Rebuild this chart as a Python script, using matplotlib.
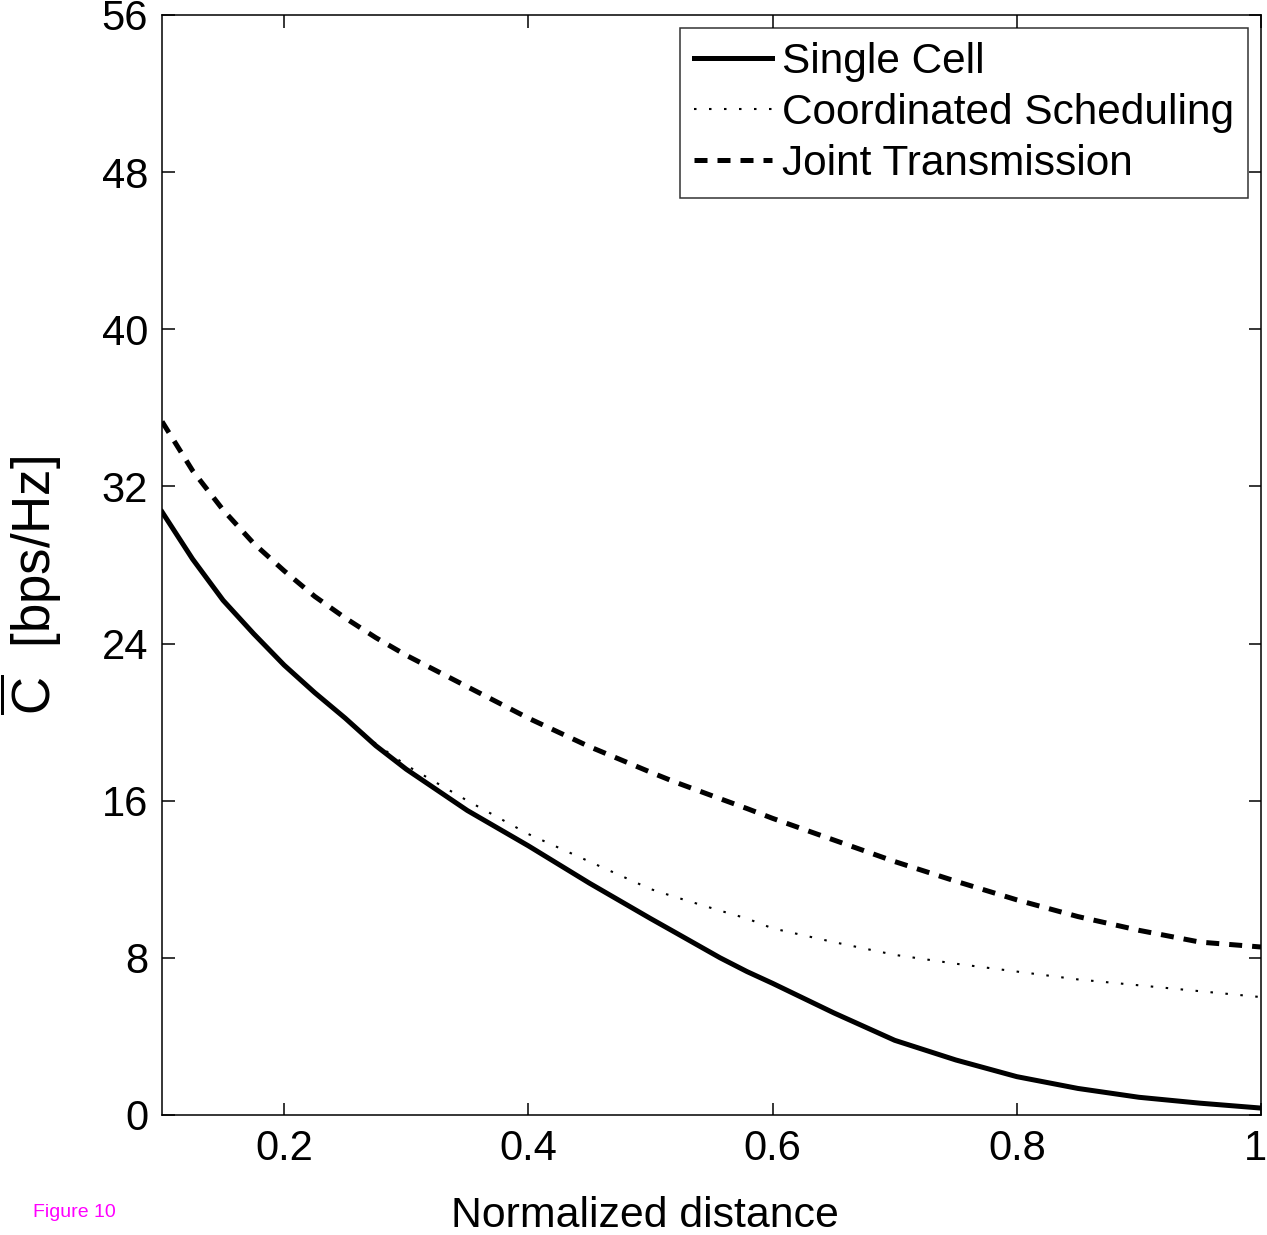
import matplotlib
matplotlib.use("Agg")
import matplotlib.pyplot as plt
import matplotlib.transforms as mtransforms

plt.rcParams['font.family'] = ['Liberation Sans', 'DejaVu Sans']
plt.rcParams['mathtext.fontset'] = 'custom'
plt.rcParams['mathtext.rm'] = 'Liberation Sans'
plt.rcParams['mathtext.it'] = 'Liberation Sans:italic'

# normalized distance grid
d = [0.100, 0.125, 0.150, 0.175, 0.200, 0.225, 0.250, 0.275, 0.300, 0.350,
     0.400, 0.450, 0.500, 0.520, 0.557, 0.579, 0.600, 0.650, 0.700, 0.750,
     0.800, 0.850, 0.900, 0.950, 1.000]

single_cell = [30.7, 28.3, 26.2, 24.5, 22.9, 21.5, 20.2, 18.8, 17.6, 15.5,
               13.7, 11.8, 10.0, 9.3, 8.0, 7.3, 6.7, 5.2, 3.8, 2.8,
               1.95, 1.35, 0.9, 0.6, 0.35]
coord_sched = [30.7, 28.3, 26.2, 24.5, 22.9, 21.5, 20.2, 18.9, 17.8, 16.0,
               14.3, 12.9, 11.5, 11.1, 10.4, 10.0, 9.5, 8.8, 8.15, 7.7,
               7.3, 6.9, 6.6, 6.3, 6.0]
joint_tx = [35.3, 32.8, 30.8, 29.1, 27.7, 26.4, 25.3, 24.3, 23.4, 21.8,
            20.2, 18.75, 17.45, 16.95, 16.1, 15.6, 15.1, 14.0, 12.9, 11.9,
            10.95, 10.1, 9.4, 8.8, 8.55]

xticks = [0.2, 0.4, 0.6, 0.8, 1.0]
xticklabels = ['0.2', '0.4', '0.6', '0.8', '1']
yticks = [0, 8, 16, 24, 32, 40, 48, 56]

fig = plt.figure(figsize=(12.67, 12.35), dpi=100)
ax = fig.add_axes([0.1279, 0.0972, 0.8674, 0.8907])

ax.plot(d, single_cell, color='black', lw=3.6, label='Single Cell')
ax.plot(d, coord_sched, color='black', lw=1.5, linestyle=(0, (1.2, 6)),
        label='Coordinated Scheduling')
ax.plot(d, joint_tx, color='black', lw=3.6, linestyle=(0, (2.6, 2.0)),
        label='Joint Transmission')

ax.set_xlim(0.1, 1.0)
ax.set_ylim(0, 56)
ax.set_xticks(xticks)
ax.set_xticklabels(xticklabels)
ax.set_yticks(yticks)
ax.tick_params(direction='in', length=9, width=1.1, top=True, right=True,
               labelsize=30, pad=10)
for s in ax.spines.values():
    s.set_linewidth(1.1)

# nudge the last x label so it stays on the canvas
last = ax.get_xticklabels()[-1]
last.set_transform(last.get_transform() +
                   mtransforms.ScaledTranslation(-6 / 100, 0, fig.dpi_scale_trans))

ax.set_xlabel('Normalized distance', fontsize=30.8)
ax.xaxis.set_label_coords(0.4395, -0.074)
ax.set_ylabel(r'$\overline{\mathrm{C}}$  [bps/Hz]', fontsize=38)
ax.yaxis.set_label_coords(-0.089, 0.481)

leg = ax.legend(loc='upper right', fontsize=30.5, frameon=True, fancybox=False,
                handlelength=1.84, handletextpad=0.24, borderpad=0.33,
                labelspacing=0.26, borderaxespad=0.3)
leg.get_frame().set_edgecolor('black')
leg.get_frame().set_linewidth(1.1)

fig.text(0.026, 0.0145, 'Figure 10', color='#ff00ff', fontsize=14)

fig.savefig('out.png', dpi=100)
